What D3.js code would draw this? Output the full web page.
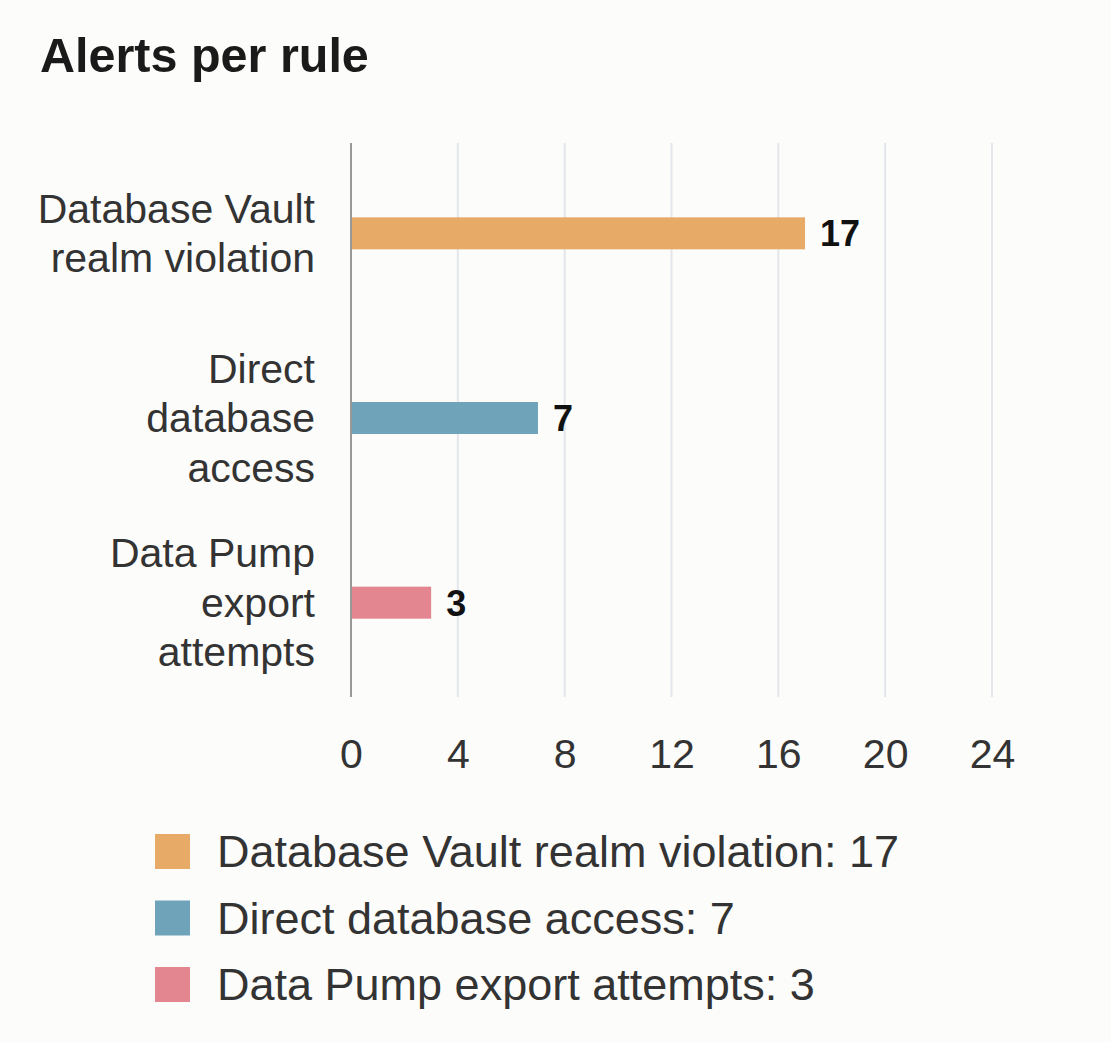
<!DOCTYPE html>
<html>
<head>
<meta charset="utf-8">
<script src="https://cdn.jsdelivr.net/npm/d3@7"></script>
<style>
  html, body { margin: 0; padding: 0; background: #fcfcfa; }
  svg { display: block; font-family: "Liberation Sans", Arial, Helvetica, sans-serif; }
</style>
</head>
<body>
<svg id="chart" width="1111" height="1042"></svg>
<script>
// Alerts per rule
var categories = [
    ["Database Vault", "realm violation"],
    ["Direct", "database", "access"],
    ["Data Pump", "export", "attempts"]
];
var ruleNames = ["Database Vault realm violation", "Direct database access", "Data Pump export attempts"];
var alertCounts = [17, 7, 3];
var barColors = ["#e8ab67", "#6fa3ba", "#e38690"];
var xTicks = [0, 4, 8, 12, 16, 20, 24];

(function(d3) {
    var svg = d3.select("#chart");
    var margin = { left: 351, right: 119, top: 143, bottom: 345 };
    var width = 1111 - margin.left - margin.right;
    var height = 1042 - margin.top - margin.bottom;

    svg.append("rect").attr("width", 1111).attr("height", 1042).attr("fill", "#fcfcfa");

    svg.append("text")
        .attr("x", 40).attr("y", 72)
        .attr("font-size", 48.5).attr("font-weight", "bold")
        .attr("fill", "#1a1a1a")
        .text("Alerts per rule");

    var g = svg.append("g").attr("transform", "translate(" + margin.left + "," + margin.top + ")");

    var x = d3.scaleLinear().domain([0, 24]).range([0, width]);
    var y = d3.scaleBand().domain(d3.range(ruleNames.length)).range([0, height]);
    var barH = 32;

    // grid
    g.selectAll("line.grid")
        .data(xTicks.slice(1))
        .enter().append("line")
        .attr("class", "grid")
        .attr("x1", function(d) { return x(d); })
        .attr("x2", function(d) { return x(d); })
        .attr("y1", 0).attr("y2", height)
        .attr("stroke", "#e3e6ea").attr("stroke-width", 2);

    // x axis tick labels
    var xAxis = d3.axisBottom(x).tickValues(xTicks).tickSize(0).tickPadding(0);
    var xg = g.append("g").attr("transform", "translate(0," + height + ")").call(xAxis);
    xg.select(".domain").remove();
    xg.selectAll("text")
        .attr("font-size", 41).attr("fill", "#333")
        .attr("font-family", "\"Liberation Sans\", Arial, sans-serif")
        .attr("dy", null).attr("y", 71);

    // bars
    g.selectAll("rect.bar")
        .data(alertCounts)
        .enter().append("rect")
        .attr("class", "bar")
        .attr("x", 0)
        .attr("y", function(d, i) { return y(i) + y.bandwidth() / 2 - barH / 2 - 2; })
        .attr("width", function(d) { return x(d); })
        .attr("height", barH)
        .attr("fill", function(d, i) { return barColors[i]; });

    // value labels
    g.selectAll("text.val")
        .data(alertCounts)
        .enter().append("text")
        .attr("class", "val")
        .attr("x", function(d) { return x(d) + 15; })
        .attr("y", function(d, i) { return y(i) + y.bandwidth() / 2 + 11; })
        .attr("font-size", 36).attr("font-weight", "bold").attr("fill", "#111")
        .text(function(d) { return d; });

    // y axis line
    g.append("line")
        .attr("x1", 0).attr("x2", 0).attr("y1", 0).attr("y2", height)
        .attr("stroke", "#999").attr("stroke-width", 2);

    // category labels
    var lineH = 49.5;
    var cat = g.selectAll("text.cat")
        .data(categories)
        .enter().append("text")
        .attr("class", "cat")
        .attr("text-anchor", "end")
        .attr("font-size", 41).attr("fill", "#333");
    cat.each(function(lines, i) {
        var cy = y(i) + y.bandwidth() / 2;
        var startY = cy - (lines.length - 1) * lineH / 2 + 12;
        d3.select(this).selectAll("tspan")
            .data(lines)
            .enter().append("tspan")
            .attr("x", -36)
            .attr("y", function(d, k) { return startY + k * lineH; })
            .text(function(d) { return d; });
    });

    // legend
    var legend = svg.append("g").attr("transform", "translate(155,834)");
    var item = legend.selectAll("g")
        .data(ruleNames)
        .enter().append("g")
        .attr("transform", function(d, i) { return "translate(0," + (i * 66.5) + ")"; });
    item.append("rect")
        .attr("width", 35).attr("height", 35)
        .attr("fill", function(d, i) { return barColors[i]; });
    item.append("text")
        .attr("x", 62).attr("y", 33)
        .attr("font-size", 45).attr("fill", "#333")
        .text(function(d, i) { return d + ": " + alertCounts[i]; });
})(d3);
</script>
</body>
</html>
